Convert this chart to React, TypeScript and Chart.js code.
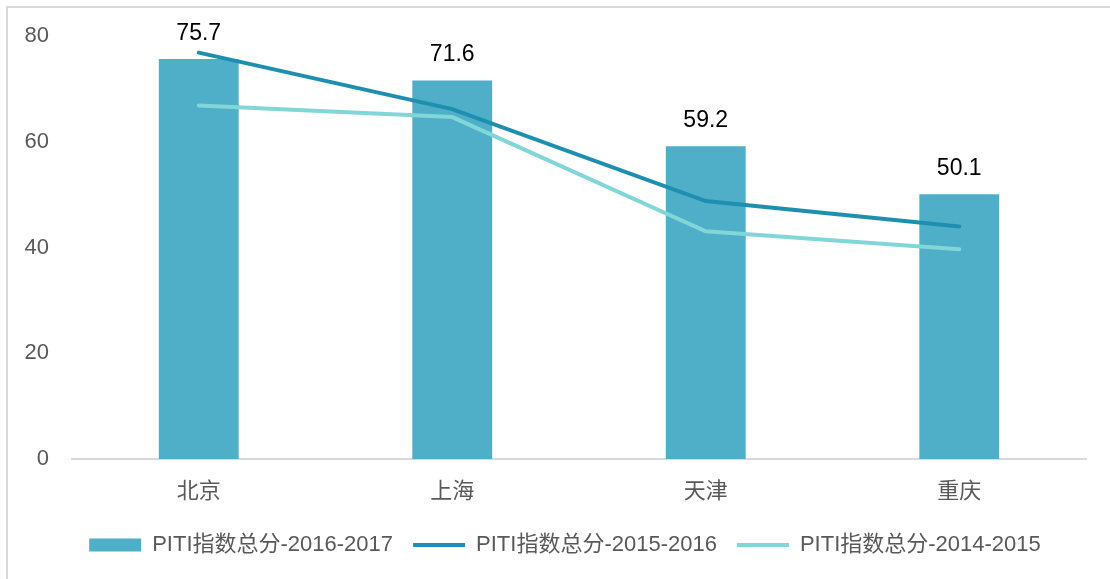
import React, { useEffect, useRef } from "react";
import { Chart, registerables } from "chart.js";

Chart.register(...registerables);

const categories = ["北京", "上海", "天津", "重庆"];
const series2016_2017 = [75.7, 71.6, 59.2, 50.1];
const series2015_2016 = [76.9, 66.2, 48.8, 44.0];
const series2014_2015 = [66.9, 64.7, 43.1, 39.7];
const yTicks = [0, 20, 40, 60, 80];

const FONT = "'Liberation Sans', 'Noto Sans CJK SC', sans-serif";

const barLabelPlugin = {
  id: "barLabels",
  afterDatasetsDraw(chart: any) {
    const ctx = chart.ctx;
    const meta = chart.getDatasetMeta(0);
    ctx.save();
    ctx.fillStyle = "#000000";
    ctx.font = `23px ${FONT}`;
    ctx.textAlign = "center";
    ctx.textBaseline = "bottom";
    meta.data.forEach((el: any, i: number) => {
      ctx.fillText(String(series2016_2017[i]), el.x, el.y - 14);
    });
    ctx.restore();
  },
};

const legendShiftPlugin = {
  id: "legendShift",
  afterLayout(chart: any) {
    if (chart.legend) {
      chart.legend.left += 22;
      chart.legend.right += 22;
    }
  },
};

export default function App() {
  const ref = useRef<HTMLCanvasElement>(null);
  useEffect(() => {
    const chart = new Chart(ref.current!, {
      type: "bar",
      data: {
        labels: categories,
        datasets: [
          {
            type: "bar",
            label: "PITI指数总分-2016-2017",
            data: series2016_2017,
            backgroundColor: "#4FAEC8",
            barPercentage: 0.315,
            categoryPercentage: 1,
            order: 3,
          },
          {
            type: "line",
            label: "PITI指数总分-2015-2016",
            data: series2015_2016,
            borderColor: "#1F8FB0",
            backgroundColor: "#1F8FB0",
            borderWidth: 4,
            pointRadius: 0,
            borderCapStyle: "round",
            tension: 0,
            order: 1,
          },
          {
            type: "line",
            label: "PITI指数总分-2014-2015",
            data: series2014_2015,
            borderColor: "#82D6D8",
            backgroundColor: "#82D6D8",
            borderWidth: 4,
            pointRadius: 0,
            borderCapStyle: "round",
            tension: 0,
            order: 2,
          },
        ] as any,
      },
      options: {
        animation: false,
        responsive: false,
        maintainAspectRatio: false,
        layout: { padding: { top: 29, right: 24, left: 0, bottom: 13 } },
        plugins: {
          tooltip: { enabled: false },
          legend: {
            position: "bottom",
            labels: {
              usePointStyle: true,
              pointStyleWidth: 52,
              boxHeight: 13,
              padding: 20,
              color: "#595959",
              font: { family: FONT, size: 22 },
              generateLabels: (c: any) =>
                c.data.datasets.map((ds: any, i: number) => ({
                  text: ds.label,
                  fillStyle: ds.type === "bar" ? ds.backgroundColor : ds.borderColor,
                  strokeStyle: ds.type === "bar" ? ds.backgroundColor : ds.borderColor,
                  lineWidth: ds.type === "bar" ? 0 : 4,
                  pointStyle: ds.type === "bar" ? "rect" : "line",
                  datasetIndex: i,
                  hidden: false,
                  fontColor: "#595959",
                })),
            },
          },
        },
        scales: {
          x: {
            grid: { display: false, drawTicks: false },
            border: { color: "#D9D9D9", width: 2 },
            ticks: {
              color: "#595959",
              font: { family: FONT, size: 22 },
              padding: 20,
            },
            afterFit: (s: any) => {
              s.height = 55;
            },
          },
          y: {
            min: 0,
            max: 80,
            grid: { display: false, drawTicks: false },
            border: { display: false },
            afterBuildTicks: (s: any) => {
              s.ticks = yTicks.map((v) => ({ value: v }));
            },
            ticks: {
              color: "#595959",
              font: { family: FONT, size: 22 },
              padding: 23,
            },
            afterFit: (s: any) => {
              s.width = 72;
            },
          },
        },
      },
      plugins: [barLabelPlugin, legendShiftPlugin],
    });
    return () => chart.destroy();
  }, []);
  return (
    <div style={{ position: "fixed", left: 0, top: 0, width: 1110, height: 579, background: "#fff" }}>
      <div
        style={{
          position: "absolute",
          left: 6,
          top: 6,
          width: 1200,
          height: 700,
          borderLeft: "2px solid #D9D9D9",
          borderTop: "2px solid #D9D9D9",
        }}
      />
      <canvas ref={ref} width={1110} height={579} style={{ position: "absolute", left: 0, top: 0 }} />
    </div>
  );
}
